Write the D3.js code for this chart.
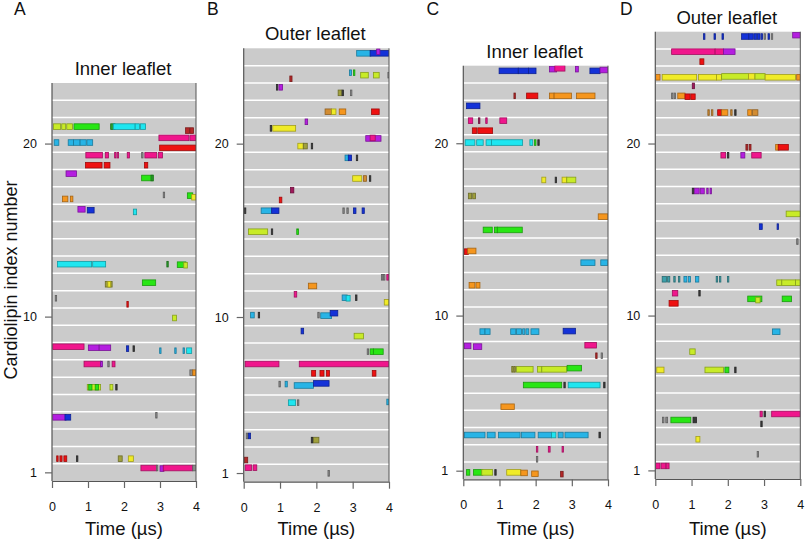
<!DOCTYPE html>
<html><head><meta charset="utf-8">
<script src="https://cdn.jsdelivr.net/npm/d3@7"></script>
<style>
body{margin:0;background:#fff;}
svg{display:block;font-family:"Liberation Sans",Arial,sans-serif;}
</style></head>
<body><div id="chart"></div>
<script>
// colour keys for interacting residue types
const palette = {
  M:"#f0168c", R:"#ee1111", DR:"#b42828", DM:"#a0185a", P:"#b41ee0", B:"#1432d8",
  SB:"#28b4e6", C:"#1ee6f0", G:"#28e614", DG:"#2aa02a", YG:"#c8eb28", Y:"#f0eb28",
  O:"#f5961e", BR:"#d28c32", OL:"#a0a03c", T:"#3ca0aa", GR:"#8c8c8c", DK:"#3c3c3c"
};
const timeTicks = [0,1,2,3,4];
const indexTicks = [1,10,20];
const titles = ["Inner leaflet","Outer leaflet","Inner leaflet","Outer leaflet"];
const letters = ["A","B","C","D"];
const rowCounts = [23,25,24,26];

// events: [cardiolipin index (row, with offset), start µs, end µs, colour key]
const eventsA = [
 [20.98,0.04,0.24,"YG"],[20.98,0.27,0.38,"YG"],[20.98,0.41,0.57,"YG"],[20.98,0.61,1.31,"G"],
 [20.98,1.63,1.75,"DG"],[20.98,1.70,2.31,"C"],[20.98,2.31,2.43,"C"],[20.98,2.46,2.60,"C"],
 [20.75,3.71,3.82,"DR"],[20.75,3.83,3.93,"DR"],
 [20.06,0.06,0.19,"SB"],[20.06,0.45,0.60,"SB"],[20.06,0.60,0.78,"SB"],[20.06,0.78,0.95,"SB"],[20.06,0.97,1.13,"SB"],
 [20.33,2.97,3.80,"M"],[20.33,3.83,4.0,"M"],[19.75,2.99,4.0,"R"],
 [19.33,0.94,1.40,"M"],[19.33,1.48,1.57,"M"],[19.33,1.74,1.78,"M"],[19.33,1.81,1.85,"M"],[19.33,2.09,2.15,"M"],
 [19.33,2.49,2.52,"GR"],[19.33,2.58,2.91,"M"],[19.33,2.96,3.07,"M"],
 [18.75,0.93,1.39,"R"],[18.75,1.45,1.61,"R"],[18.75,2.57,2.66,"R"],
 [18.26,0.39,0.68,"P"],[18.01,2.49,2.81,"G"],[18.01,2.75,2.81,"DG"],
 [16.8,0.29,0.44,"O"],[16.8,0.51,0.58,"O"],[17.03,3.09,3.12,"GR"],[16.99,3.76,3.91,"G"],[16.9,3.88,4.0,"Y"],
 [16.2,0.72,0.92,"P"],[16.15,0.98,1.17,"B"],[16.05,2.26,2.35,"C"],
 [13.03,0.15,1.10,"C"],[13.03,1.13,1.49,"C"],[13.03,3.19,3.22,"DG"],[13.0,3.48,3.72,"G"],[12.97,3.66,3.76,"YG"],
 [11.87,1.48,1.67,"OL"],[11.87,1.55,1.63,"Y"],[11.96,2.51,2.88,"G"],
 [11.06,0.09,0.12,"GR"],[10.71,2.08,2.11,"R"],[9.92,3.35,3.46,"YG"],
 [8.26,0.02,0.89,"M"],[8.2,1.01,1.31,"P"],[8.2,1.31,1.63,"P"],[8.15,2.07,2.13,"B"],[8.15,2.25,2.28,"DK"],
 [8.03,2.99,3.02,"SB"],[8.03,3.41,3.44,"SB"],[8.03,3.64,3.67,"SB"],[8.03,3.74,3.88,"C"],
 [7.26,0.89,1.35,"M"],[7.26,1.35,1.40,"P"],[7.26,1.55,1.58,"GR"],[7.26,1.67,1.75,"M"],
 [6.76,3.83,3.91,"GR"],[6.76,3.91,4.0,"O"],
 [5.92,0.98,1.35,"YG"],[5.92,1.02,1.11,"G"],[5.92,1.20,1.29,"G"],[5.92,1.61,1.69,"YG"],[5.92,1.77,1.80,"DK"],
 [4.18,0.02,0.39,"P"],[4.18,0.36,0.52,"B"],[4.3,2.88,2.91,"GR"],
 [1.79,0.13,0.17,"R"],[1.79,0.22,0.28,"R"],[1.79,0.33,0.41,"R"],[1.79,0.68,0.71,"DK"],[1.79,1.84,1.95,"OL"],[1.79,2.12,2.26,"Y"],
 [1.25,2.47,2.90,"M"],[1.25,2.90,2.93,"GR"],[1.22,3.0,3.11,"P"],[1.25,3.09,3.91,"M"],[1.25,3.91,4.0,"GR"]
];
const eventsB = [
 [25.21,3.11,3.50,"SB"],[25.21,3.48,4.0,"B"],[25.3,3.66,3.75,"P"],
 [24.09,2.91,2.97,"SB"],[24.09,3.02,3.06,"G"],[23.95,3.22,3.43,"YG"],[23.95,3.57,3.73,"YG"],[23.95,3.97,4.0,"GR"],
 [23.74,1.27,1.33,"DR"],[23.25,0.90,0.93,"DK"],[23.25,0.97,1.07,"P"],
 [22.93,2.60,2.70,"OL"],[22.93,2.71,2.74,"DK"],[22.93,2.94,2.97,"GR"],
 [21.84,2.24,2.42,"BR"],[21.84,2.42,2.54,"Y"],[21.84,2.63,2.81,"O"],[21.84,3.52,3.73,"R"],
 [21.26,1.69,1.76,"P"],[20.88,0.73,0.76,"DK"],[20.88,0.80,1.43,"Y"],
 [20.3,3.36,3.78,"P"],[20.33,3.48,3.62,"M"],
 [19.86,1.49,1.64,"Y"],[19.86,1.64,1.75,"OL"],[19.86,1.86,1.89,"DK"],
 [19.18,2.79,2.88,"SB"],[19.18,2.88,2.97,"B"],[19.18,3.10,3.13,"DK"],
 [17.99,3.0,3.25,"Y"],[17.99,3.30,3.38,"BR"],[17.99,3.46,3.49,"DK"],
 [17.32,1.29,1.38,"DM"],[16.75,0.98,1.05,"R"],
 [16.13,0.02,0.05,"DK"],[16.13,0.48,0.77,"SB"],[16.13,0.77,0.97,"B"],[16.13,2.73,2.76,"GR"],[16.13,2.84,2.87,"GR"],
 [16.13,3.02,3.09,"B"],[16.13,3.26,3.32,"B"],
 [14.92,0.13,0.66,"YG"],[14.92,0.76,0.79,"DK"],[14.92,1.46,1.51,"G"],
 [12.29,3.79,3.82,"GR"],[12.29,3.85,3.88,"GR"],[12.29,3.94,4.0,"M"],
 [11.79,1.78,2.01,"O"],[11.31,1.39,1.46,"M"],
 [11.11,2.71,2.85,"SB"],[11.08,2.82,2.93,"C"],[11.11,3.08,3.11,"DK"],[10.85,3.87,4.0,"Y"],
 [10.11,0.19,0.29,"SB"],[10.11,0.40,0.43,"DK"],[10.11,2.04,2.07,"GR"],[10.08,2.12,2.42,"SB"],[10.22,2.38,2.59,"B"],
 [9.19,1.58,1.65,"B"],[8.9,3.04,3.30,"YG"],
 [8.0,3.40,3.43,"GR"],[8.0,3.48,3.57,"G"],[8.0,3.57,3.84,"G"],
 [7.29,0.04,0.97,"M"],[7.29,1.53,4.0,"M"],
 [6.75,1.87,1.98,"R"],[6.75,2.10,2.21,"R"],[6.75,2.28,2.36,"R"],[6.75,3.54,3.64,"R"],
 [6.13,0.97,1.0,"GR"],[6.13,1.14,1.20,"SB"],[6.05,1.39,1.92,"SB"],[6.17,1.92,2.35,"B"],
 [5.06,1.23,1.43,"C"],[5.06,1.48,1.51,"GR"],[5.1,3.94,4.0,"SB"],
 [3.14,0.07,0.10,"GR"],[3.14,0.13,0.19,"B"],[2.9,1.86,1.89,"DK"],[2.9,1.92,2.07,"OL"],
 [1.75,0.02,0.11,"DR"],[1.31,0.04,0.22,"M"],[1.31,0.26,0.36,"M"],[0.98,2.32,2.35,"GR"]
];
const eventsC = [
 [24.2,0.99,1.52,"B"],[24.2,1.52,1.80,"B"],[24.2,1.80,2.01,"B"],
 [24.3,2.38,2.58,"P"],[24.35,2.53,2.81,"M"],[24.3,3.10,3.18,"P"],[24.2,3.50,3.78,"B"],[24.25,3.78,4.0,"P"],
 [22.75,1.40,1.43,"DR"],[22.75,1.75,2.06,"R"],[22.75,2.38,2.51,"O"],[22.75,2.51,2.99,"O"],[22.75,3.13,3.64,"O"],
 [22.17,0.09,0.46,"B"],
 [21.31,0.14,0.26,"M"],[21.31,0.42,0.45,"DM"],[21.31,0.62,0.66,"M"],[21.31,1.01,1.20,"M"],
 [20.73,0.25,0.37,"R"],[20.73,0.40,0.81,"R"],
 [20.04,0.05,0.32,"C"],[20.04,0.37,0.55,"C"],[20.04,0.63,0.78,"C"],[20.04,0.78,1.64,"C"],
 [20.04,1.84,1.92,"C"],[20.04,1.97,2.0,"G"],[20.04,2.06,2.09,"DK"],
 [17.87,2.17,2.28,"Y"],[17.87,2.54,2.57,"DK"],[17.87,2.73,2.86,"Y"],[17.87,2.86,3.11,"YG"],
 [16.94,0.14,0.23,"OL"],[16.94,0.26,0.34,"OL"],[15.74,3.73,4.0,"O"],
 [14.97,0.55,0.80,"G"],[14.97,0.86,0.94,"G"],[14.97,0.94,1.63,"G"],
 [13.71,0.03,0.14,"R"],[13.75,0.12,0.35,"O"],
 [13.07,3.25,3.64,"SB"],[13.07,3.80,4.0,"SB"],
 [11.76,0.16,0.32,"O"],[11.76,0.35,0.46,"O"],
 [9.07,0.46,0.60,"SB"],[9.07,0.60,0.74,"SB"],[9.07,1.31,1.45,"SB"],[9.07,1.47,1.61,"SB"],[9.07,1.64,1.70,"SB"],
 [9.07,1.73,1.81,"SB"],[9.07,1.87,2.09,"SB"],[9.1,2.76,3.10,"B"],
 [8.24,0.03,0.21,"P"],[8.2,0.28,0.51,"P"],[8.28,3.36,3.68,"M"],
 [7.67,3.66,3.69,"DR"],[7.67,3.81,3.84,"GR"],
 [6.88,1.34,1.38,"OL"],[6.88,1.40,1.43,"OL"],[6.88,1.47,1.93,"YG"],[6.88,2.05,2.17,"YG"],[6.88,2.17,2.86,"YG"],[6.95,2.87,3.27,"G"],
 [5.97,1.66,2.72,"G"],[5.97,2.78,2.81,"DK"],[5.97,2.90,3.78,"C"],[5.97,3.88,3.91,"DK"],
 [4.71,1.04,1.41,"O"],
 [3.07,0.03,0.60,"SB"],[3.07,0.66,0.88,"SB"],[3.07,0.97,1.57,"SB"],[3.07,1.61,1.98,"SB"],[3.07,2.07,2.44,"SB"],
 [3.07,2.44,2.56,"C"],[3.07,2.62,2.76,"SB"],[3.07,2.81,3.45,"SB"],[3.07,3.75,3.78,"DK"],
 [2.24,2.02,2.06,"M"],[2.24,2.35,2.40,"M"],[2.24,2.73,2.77,"M"],[1.66,2.02,2.05,"GR"],
 [0.9,0.09,0.18,"G"],[0.9,0.28,0.54,"G"],[0.9,0.51,0.81,"YG"],[0.9,0.87,0.90,"DK"],
 [0.9,1.20,1.59,"Y"],[0.87,1.59,1.77,"O"],[0.82,1.89,2.07,"O"],[0.8,2.69,2.76,"DR"]
];
const eventsD = [
 [26.22,1.33,1.36,"B"],[26.22,1.62,1.65,"B"],[26.22,1.84,1.88,"B"],[26.22,2.38,2.58,"B"],[26.22,2.58,2.70,"B"],
 [26.22,2.72,2.80,"B"],[26.22,2.82,2.89,"B"],[26.22,2.92,2.95,"B"],[26.22,3.0,3.03,"GR"],[26.22,3.11,3.14,"B"],
 [26.22,3.20,3.23,"GR"],[26.3,3.79,4.0,"P"],
 [25.34,0.45,1.65,"M"],[25.34,1.65,1.88,"M"],[25.34,1.88,2.20,"P"],[24.76,1.23,1.34,"R"],
 [23.85,0.01,0.13,"O"],[23.85,0.19,1.14,"Y"],[23.85,1.19,1.69,"Y"],[23.85,1.69,1.83,"Y"],[23.9,1.83,2.57,"YG"],
 [23.9,2.57,2.75,"Y"],[23.9,2.75,3.03,"YG"],[23.85,3.03,3.87,"Y"],[23.85,3.90,4.0,"O"],
 [23.35,1.02,1.08,"DM"],
 [22.77,0.45,0.48,"GR"],[22.77,0.52,0.55,"GR"],[22.77,0.62,0.82,"O"],[22.72,0.82,0.96,"R"],[22.72,0.98,1.10,"R"],
 [21.8,1.45,1.48,"BR"],[21.8,1.55,1.58,"BR"],[21.8,1.72,1.83,"R"],[21.8,1.83,2.0,"O"],[21.8,2.08,2.11,"BR"],
 [21.8,2.19,2.22,"DK"],[21.8,2.55,2.66,"O"],[21.8,2.68,2.83,"BR"],
 [19.78,2.50,2.55,"DR"],[19.78,2.59,2.64,"DR"],[19.78,3.32,3.41,"O"],[19.78,3.39,3.67,"R"],
 [19.32,1.81,1.94,"M"],[19.32,1.99,2.02,"DK"],[19.32,2.36,2.47,"P"],[19.32,2.66,2.92,"M"],
 [17.24,1.02,1.05,"DK"],[17.24,1.08,1.21,"P"],[17.24,1.24,1.35,"P"],[17.24,1.42,1.45,"P"],[17.24,1.51,1.54,"P"],
 [15.91,3.61,4.0,"YG"],[15.17,2.87,2.95,"B"],[15.17,3.36,3.39,"B"],[14.3,3.90,3.93,"GR"],
 [12.11,0.19,0.31,"T"],[12.11,0.34,0.40,"T"],[12.11,0.51,0.54,"T"],[12.11,0.64,0.67,"T"],[12.11,0.79,0.87,"SB"],
 [12.11,0.91,0.97,"SB"],[12.11,1.11,1.20,"SB"],[12.11,1.68,1.71,"T"],[12.11,1.77,1.80,"T"],[12.11,1.99,2.02,"T"],
 [11.91,3.35,3.49,"YG"],[11.91,3.49,3.87,"YG"],[11.91,3.87,4.0,"YG"],
 [11.3,0.47,0.62,"M"],[11.3,1.20,1.23,"DK"],
 [10.97,2.55,2.94,"G"],[10.9,2.77,2.89,"YG"],[10.97,3.50,3.76,"G"],[10.71,0.38,0.63,"R"],
 [9.06,3.23,3.44,"SB"],[7.9,0.95,1.10,"YG"],
 [6.84,0.04,0.24,"Y"],[6.84,1.37,1.88,"YG"],[6.84,1.92,2.03,"G"],[6.84,2.19,2.22,"DK"],
 [4.28,2.89,2.95,"M"],[4.28,3.0,3.03,"DK"],[4.28,3.21,4.0,"M"],[3.7,2.91,2.94,"DK"],
 [3.93,0.20,0.24,"GR"],[3.93,0.29,0.34,"GR"],[3.93,0.43,0.98,"G"],[3.93,1.04,1.07,"DK"],[3.93,1.10,1.13,"DK"],
 [2.81,1.12,1.23,"Y"],[1.94,2.81,2.84,"GR"],
 [1.26,0.01,0.13,"M"],[1.26,0.16,0.29,"M"],[1.26,0.30,0.38,"M"]
];
const allEvents = [eventsA, eventsB, eventsC, eventsD];

// layout (pixels)
const layout = [
 {x0:52,   x1:196,   top:83,   bottom:481,   lx:14},
 {x0:243.7,x1:389,   top:48.3, bottom:481.7, lx:207},
 {x0:463.3,x1:608,   top:65.7, bottom:479.3, lx:426.5},
 {x0:655.3,x1:800.3, top:31.7, bottom:479,   lx:620}
];

const svg = d3.select("#chart").append("svg").attr("width",805).attr("height",540);
const defs = svg.append("defs");

layout.forEach((L,i)=>{
  const n = rowCounts[i];
  const x = d3.scaleLinear().domain([0,4]).range([L.x0,L.x1]);
  const y = d3.scaleLinear().domain([0.5,n+0.5]).range([L.bottom,L.top]);
  const g = svg.append("g");
  defs.append("clipPath").attr("id","clip"+i).append("rect")
    .attr("x",L.x0).attr("y",L.top).attr("width",L.x1-L.x0).attr("height",L.bottom-L.top);
  g.append("rect").attr("x",L.x0).attr("y",L.top).attr("width",L.x1-L.x0).attr("height",L.bottom-L.top)
    .attr("fill","#cbcbcb");
  const grid = d3.range(1.5, n+0.5, 1);
  g.selectAll("line.grid").data(grid).join("line")
    .attr("x1",L.x0).attr("x2",L.x1).attr("y1",d=>y(d)).attr("y2",d=>y(d))
    .attr("stroke","#fff").attr("stroke-width",1.5);
  const h = 5.6;
  g.append("g").attr("clip-path",`url(#clip${i})`)
    .selectAll("rect").data(allEvents[i]).join("rect")
    .attr("x",d=>x(d[1]))
    .attr("y",d=>y(d[0])-h/2)
    .attr("width",d=>Math.max(x(d[2])-x(d[1]),1.4))
    .attr("height",h)
    .attr("fill",d=>palette[d[3]])
    .attr("stroke",d=>d3.color(palette[d[3]]).darker(1.1))
    .attr("stroke-width",0.8);
  // right border
  g.append("line").attr("x1",L.x1).attr("x2",L.x1).attr("y1",L.top).attr("y2",L.bottom)
    .attr("stroke","#555").attr("stroke-width",1);
  const ay = g.append("g").attr("transform",`translate(${L.x0},0)`)
    .call(d3.axisLeft(y).tickValues(indexTicks).tickSize(7).tickPadding(8).tickSizeOuter(0));
  const ax = g.append("g").attr("transform",`translate(0,${L.bottom})`)
    .call(d3.axisBottom(x).tickValues(timeTicks).tickFormat(d3.format("d")).tickSize(7).tickPadding(14).tickSizeOuter(0));
  [ax,ay].forEach(a=>{
    a.select(".domain").attr("stroke","#555").attr("stroke-width",1.2);
    a.selectAll(".tick line").attr("stroke","#666").attr("stroke-width",1.2);
    a.selectAll(".tick text").attr("font-size",12.5).attr("fill","#111")
      .attr("font-family",'"Liberation Sans",Arial,sans-serif');
  });
  ay.select(".domain").attr("d",`M0,${L.top}V${L.bottom}`);
  g.append("text").attr("x",(L.x0+L.x1)/2-1).attr("y",L.top-8).attr("text-anchor","middle")
    .attr("font-size",18.5).attr("fill","#111").text(titles[i]);
  g.append("text").attr("x",(L.x0+L.x1)/2).attr("y",535).attr("text-anchor","middle")
    .attr("font-size",18.5).attr("fill","#111").text("Time (µs)");
  svg.append("text").attr("x",L.lx).attr("y",14.5).attr("font-size",17.5).attr("fill","#111").text(letters[i]);
});

svg.append("text").attr("transform","translate(17,280) rotate(-90)").attr("text-anchor","middle")
  .attr("font-size",18).attr("fill","#111").text("Cardiolipin index number");
</script></body></html>
